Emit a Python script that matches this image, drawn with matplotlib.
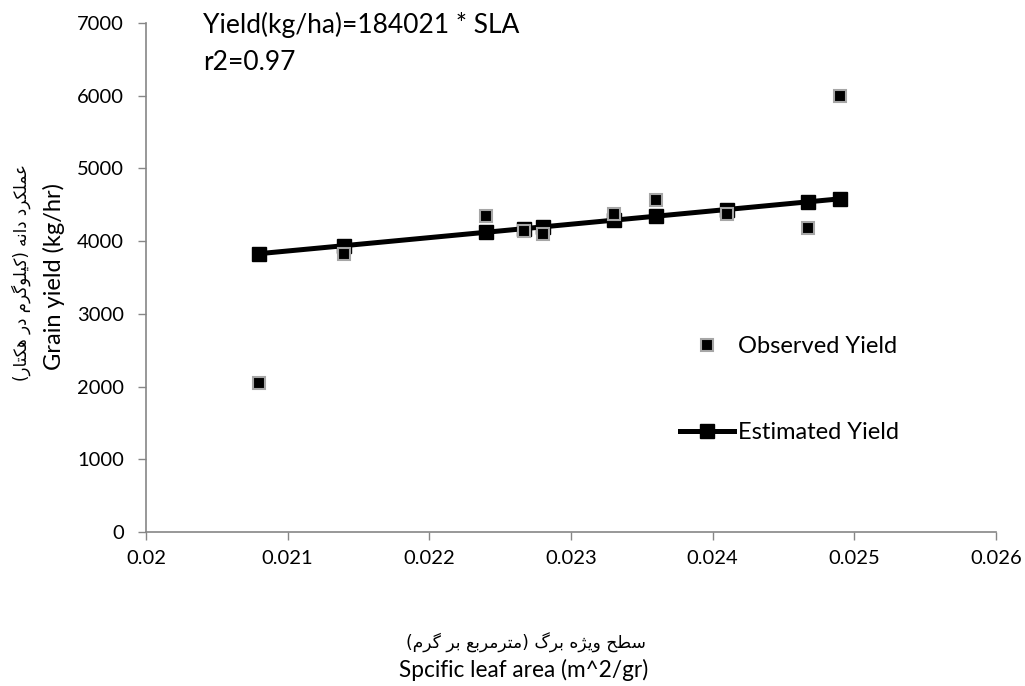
import numpy as np
import matplotlib
matplotlib.use('Agg')
import matplotlib.pyplot as plt

# data
sla = [0.0208, 0.0214, 0.0224, 0.02267, 0.0228, 0.0233, 0.0236, 0.0241, 0.02467, 0.0249]
observed = [2050, 3830, 4340, 4140, 4100, 4380, 4560, 4380, 4180, 6000]
estimated = [3828, 3938, 4122, 4172, 4196, 4288, 4343, 4435, 4540, 4582]

x_ticks = [0.02, 0.021, 0.022, 0.023, 0.024, 0.025, 0.026]
x_tick_labels = ['0.02', '0.021', '0.022', '0.023', '0.024', '0.025', '0.026']
y_ticks = [0, 1000, 2000, 3000, 4000, 5000, 6000, 7000]

fa_ylabel = 'عملکرد دانه (کیلوگرم در هکتار)'
fa_xlabel = 'سطح ویژه برگ (مترمربع بر گرم)'

# --- simple persian shaping (no bidi lib available) ---
# isolated, final, initial, medial
forms = {
    'ا': ('\uFE8D', '\uFE8E', None, None),
    'ب': ('\uFE8F', '\uFE90', '\uFE91', '\uFE92'),
    'ت': ('\uFE95', '\uFE96', '\uFE97', '\uFE98'),
    'ح': ('\uFEA1', '\uFEA2', '\uFEA3', '\uFEA4'),
    'د': ('\uFEA9', '\uFEAA', None, None),
    'ر': ('\uFEAD', '\uFEAE', None, None),
    'ز': ('\uFEAF', '\uFEB0', None, None),
    'ژ': ('\uFB8A', '\uFB8B', None, None),
    'س': ('\uFEB1', '\uFEB2', '\uFEB3', '\uFEB4'),
    'ط': ('\uFEC1', '\uFEC2', '\uFEC3', '\uFEC4'),
    'ع': ('\uFEC9', '\uFECA', '\uFECB', '\uFECC'),
    'ل': ('\uFEDD', '\uFEDE', '\uFEDF', '\uFEE0'),
    'م': ('\uFEE1', '\uFEE2', '\uFEE3', '\uFEE4'),
    'ن': ('\uFEE5', '\uFEE6', '\uFEE7', '\uFEE8'),
    'ه': ('\uFEE9', '\uFEEA', '\uFEEB', '\uFEEC'),
    'و': ('\uFEED', '\uFEEE', None, None),
    'ک': ('\uFB8E', '\uFB8F', '\uFB90', '\uFB91'),
    'گ': ('\uFB92', '\uFB93', '\uFB94', '\uFB95'),
    'ی': ('\uFBFC', '\uFBFD', '\uFBFE', '\uFBFF'),
}


def shape(text):
    out = []
    for i, ch in enumerate(text):
        if ch not in forms:
            out.append(ch)
            continue
        prev = text[i - 1] if i > 0 else ''
        nxt = text[i + 1] if i < len(text) - 1 else ''
        join_prev = prev in forms and forms[prev][2] is not None
        join_next = nxt in forms and forms[ch][2] is not None
        f = forms[ch]
        if join_prev and join_next:
            out.append(f[3])
        elif join_prev:
            out.append(f[1])
        elif join_next:
            out.append(f[2])
        else:
            out.append(f[0])
    s = ''.join(out)[::-1]
    s = s.replace('(', '\0').replace(')', '(').replace('\0', ')')
    return s


plt.rcParams['font.family'] = ['Lato', 'DejaVu Sans']

fig = plt.figure(figsize=(10.25, 6.86), dpi=100)
ax = fig.add_axes([146 / 1025, 1 - 532 / 686, 850 / 1025, 509 / 686])

ax.plot(sla, estimated, color='black', lw=3.6, marker='s', ms=9.5,
        label='Estimated Yield', zorder=2)
ax.plot(sla, observed, ls='none', marker='s', ms=8, mfc='black',
        mec='#a6a6a6', mew=1.5, label='Observed Yield', zorder=3)

ax.set_xlim(0.02, 0.026)
ax.set_ylim(0, 7000)
ax.set_xticks(x_ticks)
ax.set_xticklabels(x_tick_labels)
ax.set_yticks(y_ticks)
ax.tick_params(labelsize=14.5, colors='#868686', labelcolor='black',
               length=6, width=1, direction='out')
ax.tick_params(axis='x', pad=7)
ax.tick_params(axis='y', pad=10)
for s in ['top', 'right']:
    ax.spines[s].set_visible(False)
for s in ['left', 'bottom']:
    ax.spines[s].set_color('#868686')
    ax.spines[s].set_linewidth(1.2)

h, l = ax.get_legend_handles_labels()
ax.legend([h[1], h[0]], [l[1], l[0]], loc='upper left',
          bbox_to_anchor=(680 / 1025, 1 - 336 / 686),
          bbox_transform=fig.transFigure, frameon=False, fontsize=17,
          borderpad=0, borderaxespad=0, handlelength=2.3, handletextpad=0.15,
          labelspacing=2.75)

ax.text(203 / 1025, 1 - 33 / 686, 'Yield(kg/ha)=184021 * SLA', transform=fig.transFigure,
        fontsize=19, va='baseline', ha='left')
ax.text(203 / 1025, 1 - 70 / 686, 'r2=0.97', transform=fig.transFigure,
        fontsize=19, va='baseline', ha='left')

fig.text(54 / 1025, 1 - 276 / 686, 'Grain yield (kg/hr)', rotation=90,
         fontsize=17, ha='center', va='center')
fig.text(21 / 1025, 1 - 272 / 686, shape(fa_ylabel), rotation=90,
         fontsize=12, ha='center', va='center', family=['DejaVu Sans'])
fig.text(526 / 1025, 1 - 643 / 686, shape(fa_xlabel),
         fontsize=12.3, ha='center', va='center', family=['DejaVu Sans'])
fig.text(524 / 1025, 1 - 670 / 686, 'Spcific leaf area (m^2/gr)',
         fontsize=16.3, ha='center', va='center')

fig.savefig('out.png', dpi=100)
